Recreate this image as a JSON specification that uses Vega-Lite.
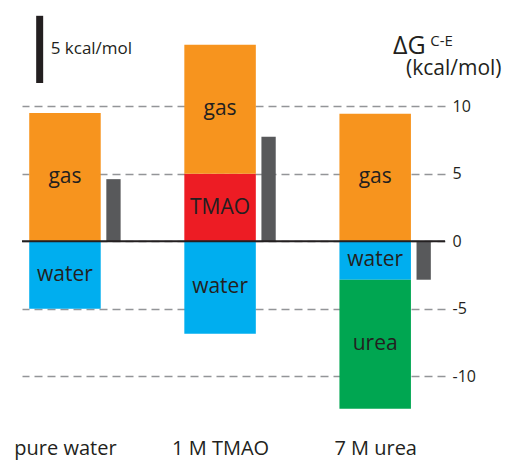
{
  "$schema": "https://vega.github.io/schema/vega-lite/v6.json",
  "width": 423,
  "height": 418.5,
  "autosize": {"type": "none"},
  "padding": {"left": 22, "top": 5, "right": 60, "bottom": 38},
  "background": "white",
  "config": {"view": {"stroke": null}, "font": "Open Sans"},
  "datasets": {
    "parts": [
      {"cond": "pure water", "comp": "gas", "lo": 0, "hi": 9.5},
      {"cond": "pure water", "comp": "water", "lo": -5.0, "hi": 0},
      {"cond": "1 M TMAO", "comp": "TMAO", "lo": 0, "hi": 5.0},
      {"cond": "1 M TMAO", "comp": "gas", "lo": 5.0, "hi": 14.55},
      {"cond": "1 M TMAO", "comp": "water", "lo": -6.85, "hi": 0},
      {"cond": "7 M urea", "comp": "gas", "lo": 0, "hi": 9.45},
      {"cond": "7 M urea", "comp": "water", "lo": -2.85, "hi": 0},
      {"cond": "7 M urea", "comp": "urea", "lo": -12.4, "hi": -2.85}
    ],
    "net": [
      {"cond": "pure water", "net": 4.6},
      {"cond": "1 M TMAO", "net": 7.75},
      {"cond": "7 M urea", "net": -2.85}
    ]
  },
  "layer": [
    {
      "data": {"name": "parts"},
      "mark": {"type": "bar", "width": 71.5},
      "encoding": {
        "x": {
          "field": "cond", "type": "nominal",
          "scale": {"type": "point", "domain": ["pure water", "1 M TMAO", "7 M urea"], "padding": 0.3636, "align": 0.381},
          "axis": {"title": null, "orient": "bottom", "ticks": false, "domain": false, "labelFont": "Open Sans", "labelFontSize": 20, "labelColor": "#231F20", "labelPadding": 31, "labelBaseline": "alphabetic", "labelAngle": 0}
        },
        "y": {
          "field": "lo", "type": "quantitative",
          "scale": {"domain": [-13.5, 17.5], "nice": false, "zero": false},
          "axis": {"title": null, "orient": "right", "values": [-10, -5, 0, 5, 10], "labelExpr": "'' + datum.value", "grid": true, "gridDash": [8, 5], "gridColor": "#939598", "gridWidth": 1.3, "ticks": false, "domain": false, "labelFont": "Open Sans", "labelFontSize": 16, "labelColor": "#231F20", "labelPadding": 7}
        },
        "y2": {"field": "hi"},
        "color": {
          "field": "comp", "type": "nominal",
          "scale": {"domain": ["gas", "TMAO", "water", "urea"], "range": ["#F7941E", "#ED1C24", "#00AEEF", "#00A651"]},
          "legend": null
        }
      }
    },
    {
      "data": {"name": "net"},
      "mark": {"type": "bar", "width": 14.3, "xOffset": 48.5, "color": "#58595B"},
      "encoding": {
        "x": {"field": "cond", "type": "nominal"},
        "y": {"field": "net", "type": "quantitative"},
        "y2": {"datum": 0}
      }
    },
    {
      "data": {"values": [{}]},
      "mark": {"type": "rule", "color": "#231F20", "strokeWidth": 2},
      "encoding": {"y": {"datum": 0}}
    },
    {
      "data": {"name": "parts"},
      "transform": [{"fold": ["lo", "hi"], "as": ["k", "v"]}],
      "mark": {"type": "text", "font": "Open Sans", "fontSize": 21, "color": "#231F20", "baseline": "middle", "align": "center"},
      "encoding": {
        "x": {"field": "cond", "type": "nominal"},
        "y": {"aggregate": "mean", "field": "v", "type": "quantitative"},
        "text": {"field": "comp"}
      }
    },
    {
      "data": {"values": [{}]},
      "mark": {"type": "bar", "width": 7, "xOffset": -25.3, "color": "#231F20"},
      "encoding": {
        "x": {"datum": "pure water"},
        "y": {"datum": 11.72},
        "y2": {"datum": 16.7}
      }
    },
    {
      "data": {"values": [{}]},
      "mark": {"type": "text", "text": "5 kcal/mol", "font": "Open Sans", "fontSize": 17, "color": "#231F20", "align": "left", "baseline": "alphabetic", "xOffset": -14.3},
      "encoding": {
        "x": {"datum": "pure water"},
        "y": {"datum": 13.87}
      }
    },
    {
      "data": {"values": [{}]},
      "mark": {"type": "text", "text": "ΔG", "font": "Open Sans", "fontSize": 25, "color": "#231F20", "align": "left", "baseline": "alphabetic", "xOffset": 17.8},
      "encoding": {
        "x": {"datum": "7 M urea"},
        "y": {"datum": 13.87}
      }
    },
    {
      "data": {"values": [{}]},
      "mark": {"type": "text", "text": "C-E", "font": "Open Sans", "fontSize": 15, "color": "#231F20", "align": "left", "baseline": "alphabetic", "xOffset": 55},
      "encoding": {
        "x": {"datum": "7 M urea"},
        "y": {"datum": 14.43}
      }
    },
    {
      "data": {"values": [{}]},
      "mark": {"type": "text", "text": "(kcal/mol)", "font": "Open Sans", "fontSize": 21, "color": "#231F20", "align": "left", "baseline": "alphabetic", "xOffset": 30.8},
      "encoding": {
        "x": {"datum": "7 M urea"},
        "y": {"datum": 12.33}
      }
    }
  ]
}
